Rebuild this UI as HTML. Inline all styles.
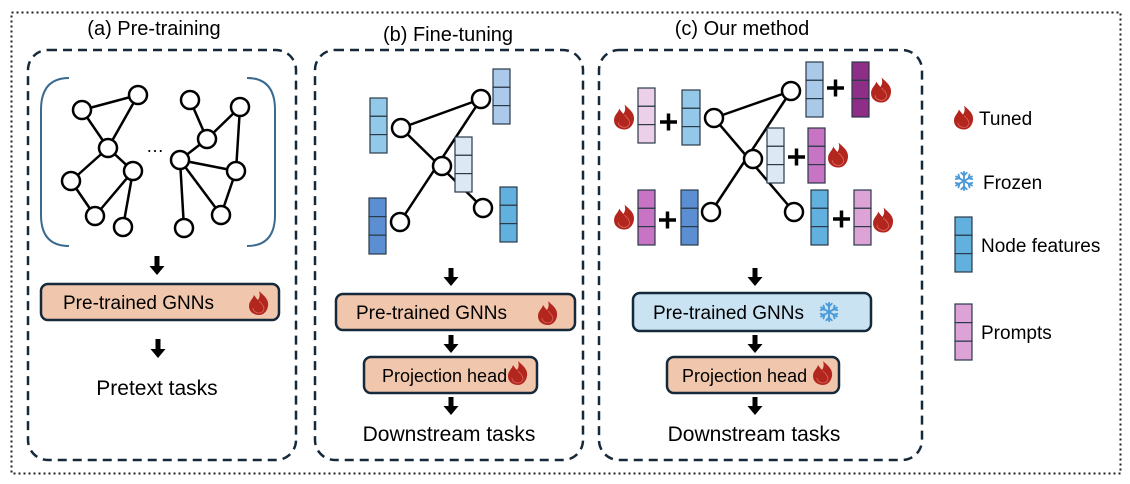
<!DOCTYPE html>
<html><head><meta charset="utf-8"><style>
html,body{margin:0;padding:0;background:#fff}
svg{display:block}
text{font-family:"Liberation Sans",sans-serif;fill:#000}
</style></head><body>
<svg width="1130" height="484" viewBox="0 0 1130 484" xmlns="http://www.w3.org/2000/svg">
<defs>
<symbol id="fl" viewBox="-11 -13 22 26" overflow="visible">
<path d="M0,-12 C5,-7 10,-4 9,3 C8,9 4,12 0,12 C-5,12 -10,9 -10,3 C-10,-2 -6,-4 -5,-8 C-3,-5 -2,-4 -1,-3 C1,-6 1,-9 0,-12Z" fill="#b3261e"/>
<path d="M0,-2 C3,1 5,3 5,6 C4,9 2,10 0,10 C-3,10 -6,8 -6,5" fill="none" stroke="#d9665e" stroke-width="0.8"/>
</symbol>
<symbol id="sn" viewBox="-12 -12 24 24" overflow="visible">
<g stroke="#4a9ad8" stroke-width="2" stroke-linecap="round" fill="none">
<line x1="0" y1="-10" x2="0" y2="10"/><line x1="-8.7" y1="-5" x2="8.7" y2="5"/><line x1="-8.7" y1="5" x2="8.7" y2="-5"/>
<path d="M-3,-9 L0,-6 L3,-9 M-3,9 L0,6 L3,9"/>
<path d="M-9,-2 L-5,-3 L-6,-7 M9,2 L5,3 L6,7 M-9,2 L-5,3 L-6,7 M9,-2 L5,-3 L6,-7"/>
</g></symbol>
</defs>

<rect x="11.5" y="12.5" width="1109" height="461" fill="none" stroke="#222" stroke-width="2" stroke-dasharray="2 3"/>

<g fill="none" stroke="#15293a" stroke-width="2.5" stroke-dasharray="9 6">
<rect x="28" y="50" width="268" height="410" rx="20"/>
<rect x="315" y="50" width="268" height="410" rx="20"/>
<rect x="599" y="50" width="323" height="410" rx="20"/>
</g>

<text x="154" y="35" font-size="20" text-anchor="middle">(a) Pre-training</text>
<text x="448" y="41" font-size="20" text-anchor="middle">(b) Fine-tuning</text>
<text x="742" y="35" font-size="20" text-anchor="middle">(c) Our method</text>

<!-- Panel a graphs -->
<path d="M69,78 Q41,78 41,110 L41,215 Q41,246 69,246" fill="none" stroke="#3b6a8f" stroke-width="2"/>
<path d="M247,78 Q275,78 275,110 L275,215 Q275,246 247,246" fill="none" stroke="#3b6a8f" stroke-width="2"/>
<g stroke="#000" stroke-width="2.5">
<line x1="82" y1="110" x2="138" y2="95"/><line x1="138" y1="95" x2="108" y2="148"/><line x1="82" y1="110" x2="108" y2="148"/>
<line x1="108" y1="148" x2="71" y2="181"/><line x1="108" y1="148" x2="133" y2="171"/><line x1="71" y1="181" x2="95" y2="216"/>
<line x1="95" y1="216" x2="133" y2="171"/><line x1="133" y1="171" x2="123" y2="227"/>
<line x1="190" y1="100" x2="207" y2="139"/><line x1="207" y1="139" x2="240" y2="107"/><line x1="207" y1="139" x2="180" y2="160"/>
<line x1="240" y1="107" x2="236" y2="171"/><line x1="180" y1="160" x2="236" y2="171"/><line x1="180" y1="160" x2="221" y2="215"/>
<line x1="236" y1="171" x2="221" y2="215"/><line x1="180" y1="160" x2="184" y2="228"/>
</g>
<g fill="#fff" stroke="#000" stroke-width="2.5">
<circle cx="82" cy="110" r="9"/><circle cx="138" cy="95" r="9"/><circle cx="108" cy="148" r="9"/><circle cx="133" cy="171" r="9"/>
<circle cx="71" cy="181" r="9"/><circle cx="95" cy="216" r="9"/><circle cx="123" cy="227" r="9"/>
<circle cx="190" cy="100" r="9"/><circle cx="240" cy="107" r="9"/><circle cx="207" cy="139" r="9"/><circle cx="180" cy="160" r="9"/>
<circle cx="236" cy="171" r="9"/><circle cx="221" cy="215" r="9"/><circle cx="184" cy="228" r="9"/>
</g>
<text x="155" y="152" font-size="18" text-anchor="middle">…</text>

<!-- arrows -->
<g fill="#000">
<path d="M154.5,256 h5 v10 h5 l-7.5,9 l-7.5,-9 h5z"/>
<path d="M155.5,339 h5 v10 h5 l-7.5,9 l-7.5,-9 h5z"/>
<path d="M448.5,268 h5 v9 h5 l-7.5,9 l-7.5,-9 h5z"/>
<path d="M448.5,335 h5 v9 h5 l-7.5,9 l-7.5,-9 h5z"/>
<path d="M448.5,397 h5 v9 h5 l-7.5,9 l-7.5,-9 h5z"/>
<path d="M752.5,268 h5 v9 h5 l-7.5,9 l-7.5,-9 h5z"/>
<path d="M752.5,335 h5 v9 h5 l-7.5,9 l-7.5,-9 h5z"/>
<path d="M752.5,397 h5 v9 h5 l-7.5,9 l-7.5,-9 h5z"/>
</g>

<!-- boxes -->
<g stroke="#15293a" stroke-width="2.5">
<rect x="41" y="284" width="238" height="36" rx="7" fill="#f0c7ad"/>
<rect x="336" y="294" width="239" height="36" rx="7" fill="#f0c7ad"/>
<rect x="364" y="357" width="173" height="36" rx="7" fill="#f0c7ad"/>
<rect x="633" y="293" width="238" height="38" rx="7" fill="#c9e3f2"/>
<rect x="667" y="357" width="172" height="36" rx="7" fill="#f0c7ad"/>
</g>
<text x="63" y="309" font-size="19">Pre-trained GNNs</text>
<use href="#fl" x="248" y="290" width="22" height="26"/>
<text x="356" y="319" font-size="19">Pre-trained GNNs</text>
<use href="#fl" x="537" y="300" width="22" height="26"/>
<text x="382" y="382" font-size="18">Projection head</text>
<use href="#fl" x="507" y="360" width="22" height="26"/>
<text x="653" y="319" font-size="19">Pre-trained GNNs</text>
<use href="#sn" x="818" y="301" width="22" height="22"/>
<text x="682" y="382" font-size="18">Projection head</text>
<use href="#fl" x="812" y="360" width="22" height="26"/>

<text x="157" y="395" font-size="21" text-anchor="middle">Pretext tasks</text>
<text x="449" y="441" font-size="21" text-anchor="middle">Downstream tasks</text>
<text x="754" y="441" font-size="21" text-anchor="middle">Downstream tasks</text>

<!-- Panel b graph -->
<g stroke="#000" stroke-width="2.5">
<line x1="401" y1="128" x2="481" y2="99"/><line x1="401" y1="128" x2="483" y2="208"/>
<line x1="481" y1="99" x2="400" y2="222"/>
</g>
<g fill="#fff" stroke="#000" stroke-width="2.5">
<circle cx="401" cy="128" r="9"/><circle cx="481" cy="99" r="9"/><circle cx="442" cy="166" r="9"/><circle cx="400" cy="222" r="9"/><circle cx="483" cy="208" r="9"/>
</g>

<!-- Panel c graph -->
<g stroke="#000" stroke-width="2.5">
<line x1="714" y1="118" x2="791" y2="91"/><line x1="714" y1="118" x2="794" y2="212"/>
<line x1="791" y1="91" x2="711" y2="212"/>
</g>
<g fill="#fff" stroke="#000" stroke-width="2.5">
<circle cx="714" cy="118" r="9"/><circle cx="791" cy="91" r="9"/><circle cx="753" cy="159" r="9"/><circle cx="711" cy="212" r="9"/><circle cx="794" cy="212" r="9"/>
</g>

<!-- feature columns -->
<g stroke="#2a3a48" stroke-width="1.2">
<g fill="#93c9e8"><rect x="370" y="98" width="17" height="18.3"/><rect x="370" y="116.3" width="17" height="18.3"/><rect x="370" y="134.6" width="17" height="18.4"/></g>
<g fill="#abc9ea"><rect x="493" y="69" width="17" height="18.3"/><rect x="493" y="87.3" width="17" height="18.3"/><rect x="493" y="105.6" width="17" height="18.4"/></g>
<g fill="#dde8f5"><rect x="455" y="137" width="17" height="18.3"/><rect x="455" y="155.3" width="17" height="18.3"/><rect x="455" y="173.6" width="17" height="18.4"/></g>
<g fill="#5b8fd2"><rect x="369" y="198" width="17" height="18.6"/><rect x="369" y="216.6" width="17" height="18.6"/><rect x="369" y="235.2" width="17" height="18.8"/></g>
<g fill="#62b0de"><rect x="500" y="187" width="17" height="18.3"/><rect x="500" y="205.3" width="17" height="18.3"/><rect x="500" y="223.6" width="17" height="18.4"/></g>

<g fill="#eccfe9"><rect x="638" y="88" width="17" height="18.3"/><rect x="638" y="106.3" width="17" height="18.3"/><rect x="638" y="124.6" width="17" height="18.4"/></g>
<g fill="#93c8e8"><rect x="682" y="90" width="18" height="18.3"/><rect x="682" y="108.3" width="18" height="18.3"/><rect x="682" y="126.6" width="18" height="18.4"/></g>
<g fill="#aac8e8"><rect x="806" y="62" width="17" height="18.3"/><rect x="806" y="80.3" width="17" height="18.3"/><rect x="806" y="98.6" width="17" height="18.4"/></g>
<g fill="#8e2e86"><rect x="852" y="62" width="17" height="18.3"/><rect x="852" y="80.3" width="17" height="18.3"/><rect x="852" y="98.6" width="17" height="18.4"/></g>
<g fill="#dde8f5"><rect x="767" y="128" width="17" height="18.3"/><rect x="767" y="146.3" width="17" height="18.3"/><rect x="767" y="164.6" width="17" height="18.4"/></g>
<g fill="#c874c4"><rect x="808" y="128" width="17" height="18.3"/><rect x="808" y="146.3" width="17" height="18.3"/><rect x="808" y="164.6" width="17" height="18.4"/></g>
<g fill="#c874c4"><rect x="638" y="190" width="17" height="18.3"/><rect x="638" y="208.3" width="17" height="18.3"/><rect x="638" y="226.6" width="17" height="18.4"/></g>
<g fill="#5b8fd2"><rect x="681" y="190" width="17" height="18.3"/><rect x="681" y="208.3" width="17" height="18.3"/><rect x="681" y="226.6" width="17" height="18.4"/></g>
<g fill="#62b0de"><rect x="811" y="190" width="17" height="18.3"/><rect x="811" y="208.3" width="17" height="18.3"/><rect x="811" y="226.6" width="17" height="18.4"/></g>
<g fill="#dda2d6"><rect x="854" y="190" width="17" height="18.3"/><rect x="854" y="208.3" width="17" height="18.3"/><rect x="854" y="226.6" width="17" height="18.4"/></g>

<g fill="#62b0de"><rect x="955" y="217" width="17" height="18.3"/><rect x="955" y="235.3" width="17" height="18.3"/><rect x="955" y="253.6" width="17" height="18.4"/></g>
<g fill="#dda2d6"><rect x="955" y="304" width="17" height="18.6"/><rect x="955" y="322.6" width="17" height="18.6"/><rect x="955" y="341.2" width="17" height="18.8"/></g>
</g>

<!-- plus signs -->
<g stroke="#000" stroke-width="3.5">
<path d="M660,122 h17 M668.5,113.5 v17"/>
<path d="M827,88 h17 M835.5,79.5 v17"/>
<path d="M788,157 h17 M796.5,148.5 v17"/>
<path d="M659,220 h17 M667.5,211.5 v17"/>
<path d="M833,219 h17 M841.5,210.5 v17"/>
</g>

<!-- flames panel c -->
<use href="#fl" x="613" y="103" width="23" height="28"/>
<use href="#fl" x="870" y="76" width="23" height="28"/>
<use href="#fl" x="827" y="141" width="23" height="28"/>
<use href="#fl" x="613" y="203" width="23" height="28"/>
<use href="#fl" x="872" y="206" width="23" height="28"/>

<!-- legend -->
<use href="#fl" x="953" y="104" width="22" height="27"/>
<text x="979" y="125" font-size="19">Tuned</text>
<use href="#sn" x="953" y="170" width="22" height="22"/>
<text x="983" y="189" font-size="19">Frozen</text>
<text x="981" y="252" font-size="19">Node features</text>
<text x="981" y="339" font-size="19">Prompts</text>
</svg>
</body></html>
